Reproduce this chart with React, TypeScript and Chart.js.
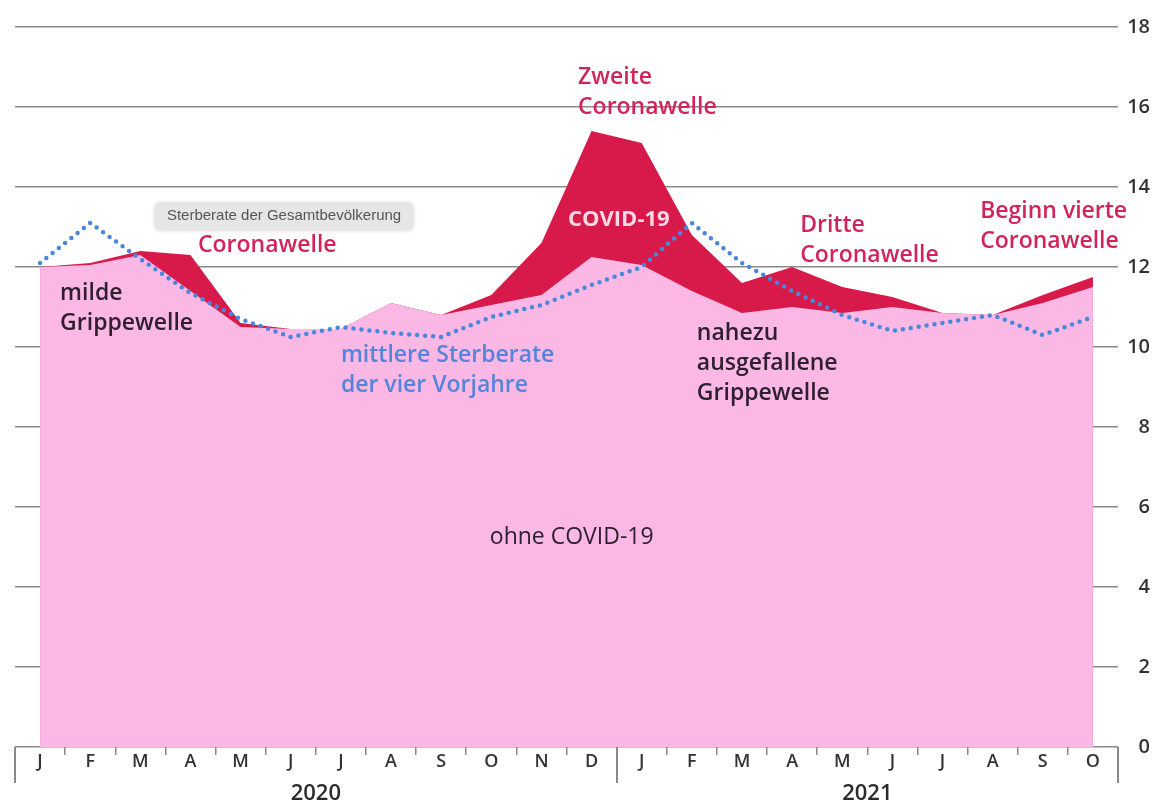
import React, { useEffect, useRef } from 'react';
import { Chart, registerables } from 'chart.js';

Chart.register(...registerables);

// ---- data ----
const MONTHS = ['J', 'F', 'M', 'A', 'M', 'J', 'J', 'A', 'S', 'O', 'N', 'D', 'J', 'F', 'M', 'A', 'M', 'J', 'J', 'A', 'S', 'O'];
// Sterberate der Gesamtbevölkerung (inkl. COVID-19)
const TOTAL = [12.0, 12.1, 12.4, 12.3, 10.6, 10.45, 10.45, 11.1, 10.8, 11.3, 12.6, 15.4, 15.1, 12.8, 11.6, 12.0, 11.5, 11.25, 10.85, 10.8, 11.3, 11.75];
// ohne COVID-19
const OHNE = [12.0, 12.05, 12.3, 11.4, 10.5, 10.45, 10.45, 11.1, 10.8, 11.05, 11.3, 12.25, 12.05, 11.4, 10.85, 11.0, 10.85, 11.0, 10.85, 10.8, 11.1, 11.5];
// mittlere Sterberate der vier Vorjahre
const AVG = [12.1, 13.1, 12.2, 11.35, 10.7, 10.25, 10.5, 10.35, 10.25, 10.75, 11.05, 11.55, 12.0, 13.1, 12.1, 11.4, 10.8, 10.4, 10.6, 10.8, 10.3, 10.75];
const Y_MIN = 0;
const Y_MAX = 18;
const Y_STEP = 2;
const YEARS = [
  { label: '2020', at: 5.5 },
  { label: '2021', at: 16.5 },
];
const YEAR_BOUNDS = [-0.5, 11.5, 21.5];

// ---- annotations (positions in data units: x = month index, y = rate) ----
const RED_TXT = '#d2245a';
const DARK_TXT = '#2e2030';
const BLUE_TXT = '#5584d8';
type Note = { lines: string[]; x: number; y: number; color: string; weight: number; size: number };
const NOTES: Note[] = [
  { lines: ['Coronawelle'], x: 3.15, y: 12.55, color: RED_TXT, weight: 600, size: 23 },
  { lines: ['milde', 'Grippewelle'], x: 0.4, y: 11.33, color: DARK_TXT, weight: 600, size: 23 },
  { lines: ['mittlere Sterberate', 'der vier Vorjahre'], x: 6.0, y: 9.78, color: BLUE_TXT, weight: 600, size: 23 },
  { lines: ['Zweite', 'Coronawelle'], x: 10.73, y: 16.73, color: RED_TXT, weight: 600, size: 23 },
  { lines: ['COVID-19'], x: 10.53, y: 13.18, color: '#ffd9e6', weight: 700, size: 22 },
  { lines: ['Dritte', 'Coronawelle'], x: 15.16, y: 13.05, color: RED_TXT, weight: 600, size: 23 },
  { lines: ['Beginn vierte', 'Coronawelle'], x: 18.75, y: 13.38, color: RED_TXT, weight: 600, size: 23 },
  { lines: ['nahezu', 'ausgefallene', 'Grippewelle'], x: 13.1, y: 10.35, color: DARK_TXT, weight: 600, size: 23 },
  { lines: ['ohne COVID-19'], x: 8.97, y: 5.25, color: DARK_TXT, weight: 500, size: 23 },
];
const BADGE = { text: 'Sterberate der Gesamtbevölkerung', x: 2.29, y: 13.62 };

const FONT = '"Open Sans", "Noto Sans", sans-serif';

const notesPlugin = {
  id: 'notes',
  afterDatasetsDraw(chart: any) {
    const { ctx, scales } = chart;
    const xs = scales.x;
    const ys = scales.y;
    ctx.save();
    ctx.textAlign = 'left';
    ctx.textBaseline = 'middle';
    for (const n of NOTES) {
      ctx.font = `${n.weight} ${n.size}px ${FONT}`;
      ctx.fillStyle = n.color;
      const px = xs.getPixelForValue(n.x);
      const py = ys.getPixelForValue(n.y);
      n.lines.forEach((l, i) => ctx.fillText(l, px, py + i * 30));
    }
    // badge
    ctx.font = `15px "Liberation Sans", Arial, sans-serif`;
    const tw = ctx.measureText(BADGE.text).width;
    const bx = xs.getPixelForValue(BADGE.x);
    const by = ys.getPixelForValue(BADGE.y);
    const bw = tw + 24;
    const bh = 27;
    ctx.shadowColor = 'rgba(0,0,0,0.18)';
    ctx.shadowBlur = 4;
    ctx.shadowOffsetY = 1;
    ctx.fillStyle = '#e6e6e6';
    ctx.beginPath();
    ctx.roundRect(bx, by, bw, bh, 5);
    ctx.fill();
    ctx.shadowColor = 'transparent';
    ctx.fillStyle = '#555';
    ctx.fillText(BADGE.text, bx + 12, by + bh / 2 + 0.5);
    ctx.restore();
  },
  afterDraw(chart: any) {
    const { ctx, scales, chartArea } = chart;
    const xs = scales.x;
    ctx.save();
    ctx.strokeStyle = '#8a8a8a';
    ctx.lineWidth = 2;
    for (const b of YEAR_BOUNDS) {
      const px = Math.round(xs.getPixelForValue(b));
      ctx.beginPath();
      ctx.moveTo(px, chartArea.bottom);
      ctx.lineTo(px, chartArea.bottom + 36);
      ctx.stroke();
    }
    ctx.fillStyle = '#2a2a2a';
    ctx.font = `600 22px ${FONT}`;
    ctx.textAlign = 'center';
    ctx.textBaseline = 'middle';
    for (const yr of YEARS) {
      ctx.fillText(yr.label, xs.getPixelForValue(yr.at), chartArea.bottom + 47);
    }
    ctx.restore();
  },
};

export default function App() {
  const ref = useRef<HTMLCanvasElement | null>(null);
  useEffect(() => {
    if (!ref.current) return;
    const chart = new Chart(ref.current, {
      type: 'line',
      data: {
        labels: MONTHS,
        datasets: [
          {
            label: 'mittlere Sterberate der vier Vorjahre',
            data: AVG,
            borderColor: '#4a86dc',
            borderWidth: 4.5,
            borderDash: [0, 8],
            borderCapStyle: 'round',
            pointRadius: 0,
            fill: false,
            tension: 0,
            order: 0,
          },
          {
            label: 'ohne COVID-19',
            data: OHNE,
            borderColor: 'transparent',
            borderWidth: 0,
            backgroundColor: '#fbb8e4',
            pointRadius: 0,
            fill: 'origin',
            tension: 0,
            order: 1,
          },
          {
            label: 'Sterberate der Gesamtbevölkerung',
            data: TOTAL,
            borderColor: 'transparent',
            borderWidth: 0,
            backgroundColor: '#d81a4a',
            pointRadius: 0,
            fill: 'origin',
            tension: 0,
            order: 2,
          },
        ],
      },
      options: {
        responsive: false,
        animation: false,
        layout: { padding: { top: 27, left: 15, right: 7, bottom: 0 } },
        plugins: { legend: { display: false }, tooltip: { enabled: false } },
        scales: {
          x: {
            type: 'category',
            offset: true,
            grid: {
              offset: true,
              drawOnChartArea: false,
              drawTicks: true,
              tickLength: 8,
              color: '#8a8a8a',
              lineWidth: 1.5,
            },
            border: { display: false },
            ticks: {
              color: '#333',
              font: { family: FONT, size: 18, weight: 600 },
              padding: -4,
              maxRotation: 0,
              autoSkip: false,
            },
            afterFit: (s: any) => {
              s.height = 58;
            },
          },
          y: {
            position: 'right',
            min: Y_MIN,
            max: Y_MAX,
            ticks: {
              stepSize: Y_STEP,
              color: '#333',
              font: { family: FONT, size: 20, weight: 600 },
              crossAlign: 'far',
              padding: 7,
            },
            grid: { color: '#8a8a8a', lineWidth: 1.5, drawTicks: false },
            border: { display: false },
            afterFit: (s: any) => {
              s.width = 32;
            },
          },
        },
      },
      plugins: [notesPlugin],
    } as any);
    return () => chart.destroy();
  }, []);
  return (
    <div style={{ position: 'fixed', left: 0, top: 0, width: 1157, height: 805, background: '#fff' }}>
      <canvas ref={ref} width={1157} height={805} />
    </div>
  );
}
